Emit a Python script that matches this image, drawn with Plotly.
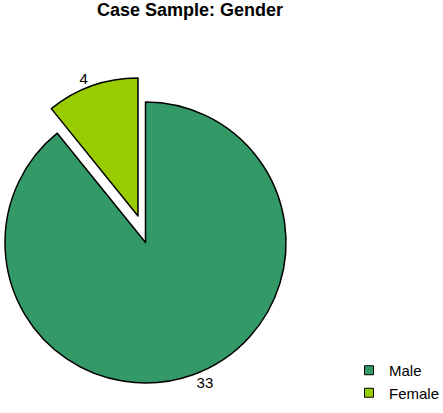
import plotly.graph_objects as go

categories = ["Male", "Female"]
counts = [33, 4]
colors = ["#339966", "#99CC00"]
title_text = "Case Sample: Gender"

W, H = 443, 413
FONT = "Liberation Sans, Arial, sans-serif"
clear = "rgba(0,0,0,0)"

fig = go.Figure()

# main pie (Male visible, Female slot empty)
fig.add_trace(go.Pie(
    labels=categories, values=counts, sort=False, direction="clockwise",
    marker=dict(colors=[colors[0], clear], line=dict(color="black", width=[1.5, 0])),
    texttemplate=["%{value}", ""], textposition="outside",
    textfont=dict(family=FONT, size=15, color="black"),
    domain=dict(x=[5 / W, 286 / W], y=[1 - 383 / H, 1 - 102 / H]),
    showlegend=False, hoverinfo="label+value",
))

# exploded Female slice
fig.add_trace(go.Pie(
    labels=categories, values=counts, sort=False, direction="clockwise",
    marker=dict(colors=[clear, colors[1]], line=dict(color="black", width=[0, 1.5])),
    texttemplate=["", "%{value}"], textposition="outside",
    textfont=dict(family=FONT, size=15, color="black"),
    domain=dict(x=[0, 276 / W], y=[1 - 354 / H, 1 - 78 / H]),
    showlegend=False, hoverinfo="label+value",
))

# legend entries
for name, col in zip(categories, colors):
    fig.add_trace(go.Scatter(
        x=[None], y=[None], mode="markers", name=name,
        marker=dict(symbol="square", size=9, color=col, line=dict(color="black", width=1)),
    ))

fig.update_layout(
    width=W, height=H,
    margin=dict(l=0, r=0, t=0, b=0, autoexpand=False),
    paper_bgcolor="white", plot_bgcolor="white",
    xaxis=dict(visible=False), yaxis=dict(visible=False),
    title=dict(text="<b>" + title_text + "</b>", x=190 / W, xanchor="center",
               y=1 - 10 / H, yanchor="middle", yref="container", xref="container",
               font=dict(family=FONT, size=18, color="black")),
    legend=dict(x=349 / W, xanchor="left", y=1 - 354 / H, yanchor="top",
                font=dict(family=FONT, size=15, color="black"),
                bgcolor=clear, borderwidth=0),
)

fig.write_html("out.html", config={"displayModeBar": False},
               post_script="document.body.style.margin='0px';document.body.style.overflow='hidden';")
